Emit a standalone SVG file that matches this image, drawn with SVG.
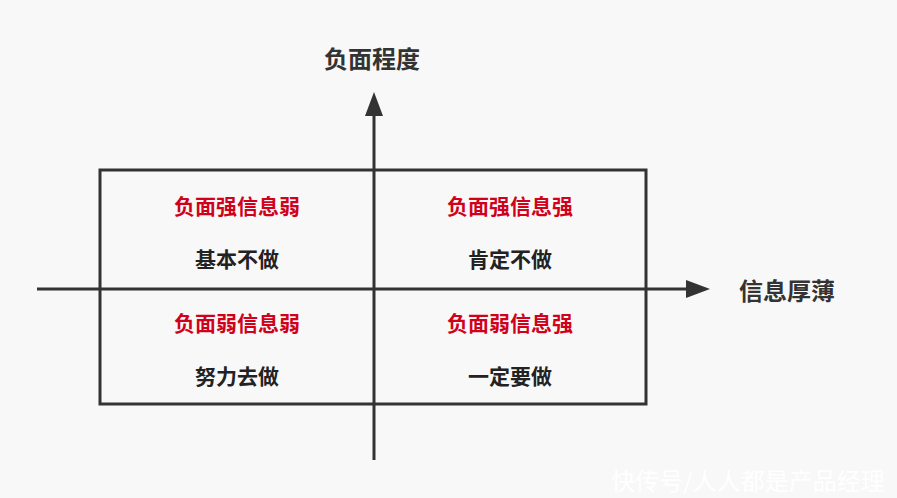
<svg xmlns="http://www.w3.org/2000/svg" width="897" height="498" viewBox="0 0 897 498">
<style>
text{font-family:"Noto Sans CJK SC","Noto Sans",sans-serif;text-anchor:middle}
.ax{font-size:24px;fill:#333;font-weight:700}
.r{font-size:21px;fill:#d0021b;font-weight:700}
.b{font-size:21px;fill:#222;font-weight:700}
.l{stroke:#333;stroke-width:3;fill:none}
</style>
<defs><marker id="ah" markerWidth="8" markerHeight="6" refX="0" refY="3" orient="auto" markerUnits="strokeWidth"><path d="M0,0L8,3L0,6z" fill="#333"/></marker></defs>
<rect width="897" height="498" fill="#f8f8f8"/>
<g id="box"><rect x="100" y="170" width="546" height="234" fill="#fff" class="l"/></g>
<g id="connectors">
<line class="l" x1="374" y1="460" x2="374" y2="116" marker-end="url(#ah)"/>
<line class="l" x1="37" y1="289" x2="686" y2="289" marker-end="url(#ah)"/>
</g>
<g id="axis-y"><text class="ax" x="372" y="68">负面程度</text></g>
<g id="axis-x"><text class="ax" x="787" y="300">信息厚薄</text></g>
<g id="q1"><text class="r" x="237" y="214">负面强信息弱</text><text class="b" x="237" y="267">基本不做</text></g>
<g id="q2"><text class="r" x="510" y="214">负面强信息强</text><text class="b" x="510" y="267">肯定不做</text></g>
<g id="q3"><text class="r" x="237" y="331">负面弱信息弱</text><text class="b" x="237" y="384">努力去做</text></g>
<g id="q4"><text class="r" x="510" y="331">负面弱信息强</text><text class="b" x="510" y="384">一定要做</text></g>
<text x="748" y="490" style="font-size:24px;fill:#fff">快传号/人人都是产品经理</text>
</svg>
